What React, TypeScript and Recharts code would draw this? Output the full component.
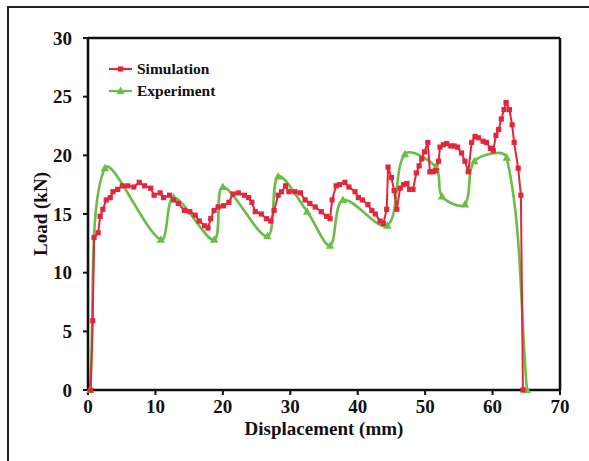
import {
  LineChart,
  Line,
  XAxis,
  YAxis,
  Legend,
  Label,
  ReferenceLine,
} from "recharts";

const RED = "#e3263b";
const GREEN = "#6cbd47";
const FONT = "'Liberation Serif', 'Times New Roman', serif";

// Simulation (red squares)
const simX = [
  0.4, 0.7, 0.9, 1.5, 1.8, 2.2, 2.7, 3.3, 3.7, 4.4, 5.1, 5.9, 6.8, 7.6, 8.4,
  9.3, 9.8, 10.7, 11.2, 12.1, 12.7, 13.4, 14.3, 15.1, 15.9, 16.5, 17.3, 17.8,
  18.2, 18.7, 19.3, 20.1, 20.9, 21.5, 22.3, 23.2, 23.8, 24.3, 24.8, 25.7, 26.5,
  27.1, 27.6, 28.2, 28.7, 29.3, 29.8, 30.7, 31.5, 32.2, 32.9, 33.7, 34.6, 35.4,
  35.9, 36.2, 36.8, 37.3, 38.1, 38.7, 39.6, 40.1, 40.7, 41.5, 42.1, 42.6, 43.3,
  43.8, 44.3, 44.5, 45.0, 45.4, 45.8, 46.3, 46.8, 47.3, 47.7, 48.2, 48.7, 49.1,
  49.5, 49.9, 50.4, 50.7, 51.2, 51.6, 52.0, 52.2, 52.7, 53.2, 53.8, 54.3, 54.8,
  55.4, 55.9, 56.4, 56.9, 57.4, 57.9, 58.6, 59.1, 59.7, 60.1, 60.5, 60.9, 61.3,
  61.7, 62.0, 62.5, 62.9, 63.2, 63.8, 64.2, 64.5,
];
const simY = [
  0, 5.9, 13.0, 13.4, 14.8, 15.4, 16.2, 16.4, 16.9, 17.1, 17.4, 17.4, 17.3,
  17.7, 17.4, 17.2, 16.6, 16.8, 16.4, 16.6, 16.2, 15.9, 15.3, 15.2, 14.9, 14.4,
  14.0, 13.8, 14.6, 15.3, 15.6, 15.7, 16.0, 16.7, 16.8, 16.6, 16.4, 16.0, 15.2,
  15.0, 14.6, 14.4, 15.3, 16.6, 16.9, 17.4, 16.9, 16.9, 16.8, 16.2, 15.9, 15.6,
  15.2, 14.8, 14.6, 16.2, 17.4, 17.5, 17.7, 17.3, 16.9, 16.4, 16.2, 15.8, 15.3,
  15.0, 14.4, 14.2, 15.4, 19.0, 18.1, 17.0, 15.4, 17.2, 17.5, 17.6, 17.1, 17.1,
  18.5, 19.1, 19.7, 20.3, 21.1, 18.6, 18.6, 18.7, 19.5, 20.7, 20.9, 21.0, 20.8,
  20.8, 20.7, 20.2, 19.5, 18.6, 21.1, 21.6, 21.5, 21.2, 21.1, 20.6, 20.4, 21.7,
  22.2, 23.1, 23.9, 24.5, 23.9, 22.6, 21.1, 18.9, 16.6, 0,
];

// Experiment (green triangles)
const expX = [
  0.3, 2.5, 10.8, 12.7, 18.7, 20.0, 26.6, 28.2, 32.5, 35.9, 37.8, 44.4, 47.0,
  51.6, 52.5, 55.9, 57.3, 62.1, 65.1,
];
const expY = [
  0, 18.9, 12.8, 16.4, 12.8, 17.3, 13.1, 18.2, 15.2, 12.3, 16.2, 14.0, 20.1,
  19.0, 16.5, 15.8, 19.5, 19.8, 0,
];

const xTicks = [0, 10, 20, 30, 40, 50, 60, 70];
const yTicks = [0, 5, 10, 15, 20, 25, 30];

const simData = simX.map((x, i) => ({ x, y: simY[i] }));
const expData = expX.map((x, i) => ({ x, y: expY[i] }));

// smoothed line through the points, tangents weighted by segment length
const smoothCurve = (context: any) => {
  let pts: number[][] = [];
  const dist = (a: number[], b: number[]) => Math.hypot(a[0] - b[0], a[1] - b[1]);
  return {
    areaStart() {},
    areaEnd() {},
    lineStart() {
      pts = [];
    },
    lineEnd() {
      const n = pts.length;
      if (!n) return;
      context.moveTo(pts[0][0], pts[0][1]);
      for (let i = 0; i < n - 1; i++) {
        const p0 = pts[i - 1] || pts[i];
        const p1 = pts[i];
        const p2 = pts[i + 1];
        const p3 = pts[i + 2] || pts[i + 1];
        const d01 = dist(p0, p1);
        const d12 = dist(p1, p2);
        const d23 = dist(p2, p3);
        const f1 = d12 / (d01 + d12 || 1) / 3;
        const f2 = d12 / (d12 + d23 || 1) / 3;
        context.bezierCurveTo(
          p1[0] + (p2[0] - p0[0]) * f1,
          p1[1] + (p2[1] - p0[1]) * f1,
          p2[0] - (p3[0] - p1[0]) * f2,
          p2[1] - (p3[1] - p1[1]) * f2,
          p2[0],
          p2[1]
        );
      }
    },
    point(x: number, y: number) {
      pts.push([+x, +y]);
    },
  };
};

const Square = (p: any) => (
  <rect key={`s${p.index}`} x={p.cx - 2.6} y={p.cy - 2.6} width={5.2} height={5.2} fill={RED} />
);

const Triangle = (p: any) => (
  <path
    key={`t${p.index}`}
    d={`M${p.cx},${p.cy - 4.5}L${p.cx + 4.2},${p.cy + 3}L${p.cx - 4.2},${p.cy + 3}Z`}
    fill={GREEN}
  />
);

const LegendBox = () => {
  const items = [
    { name: "Simulation", color: RED, shape: "square" },
    { name: "Experiment", color: GREEN, shape: "tri" },
  ];
  return (
    <div style={{ fontFamily: FONT, fontWeight: 700, fontSize: 15.5, color: "#111" }}>
      {items.map((it) => (
        <div key={it.name} style={{ display: "flex", alignItems: "center", height: 22 }}>
          <svg width={26} height={12} style={{ marginRight: 3 }}>
            <line x1={1} y1={6} x2={24} y2={6} stroke={it.color} strokeWidth={2.2} />
            {it.shape === "square" ? (
              <rect x={10} y={3.4} width={5.2} height={5.2} fill={it.color} />
            ) : (
              <path d="M12.5,1.5L16.7,9L8.3,9Z" fill={it.color} />
            )}
          </svg>
          <span>{it.name}</span>
        </div>
      ))}
    </div>
  );
};

const YTitle = (props: any) => {
  const vb = props.viewBox;
  const cx = vb.x + 12;
  const cy = vb.y + vb.height / 2;
  return (
    <text
      x={cx}
      y={cy}
      transform={`rotate(-90 ${cx} ${cy})`}
      textAnchor="middle"
      dominantBaseline="central"
      fontFamily={FONT}
      fontWeight={700}
      fontSize={19}
      fill="#111"
    >
      Load (kN)
    </text>
  );
};

const XTitle = (props: any) => {
  const vb = props.viewBox;
  return (
    <text
      x={vb.x + vb.width / 2}
      y={vb.y + 45}
      textAnchor="middle"
      fontFamily={FONT}
      fontWeight={700}
      fontSize={19}
      fill="#111"
    >
      Displacement (mm)
    </text>
  );
};

const tickStyle = { fontFamily: FONT, fontWeight: 700, fontSize: 19, fill: "#111" };
const axisStroke = { stroke: "#111", strokeWidth: 2.6 };

export default function App() {
  return (
    <div
      style={{
        position: "absolute",
        left: 0,
        top: 0,
        width: 589,
        height: 461,
        background: "#fff",
        overflow: "hidden",
      }}
    >
      <div
        style={{
          position: "absolute",
          left: 7,
          top: 6,
          width: 620,
          height: 500,
          borderLeft: "2px solid #222",
          borderTop: "2px solid #222",
        }}
      />
      <LineChart
        width={589}
        height={461}
        margin={{ top: 38, right: 29, bottom: 21, left: 28 }}
        style={{ position: "absolute", left: 0, top: 0 }}
      >
        <XAxis
          dataKey="x"
          type="number"
          domain={[0, 70]}
          ticks={xTicks}
          height={50}
          tick={tickStyle}
          tickSize={5}
          tickMargin={5}
          axisLine={axisStroke}
          tickLine={{ stroke: "#111", strokeWidth: 2 }}
        >
          <Label content={XTitle} />
        </XAxis>
        <YAxis
          dataKey="y"
          type="number"
          domain={[0, 30]}
          ticks={yTicks}
          width={60}
          tick={tickStyle}
          tickSize={5}
          tickMargin={11}
          axisLine={axisStroke}
          tickLine={{ stroke: "#111", strokeWidth: 2 }}
        >
          <Label content={YTitle} />
        </YAxis>
        <ReferenceLine y={30} stroke="#111" strokeWidth={2.6} />
        <ReferenceLine x={70} stroke="#111" strokeWidth={2.6} />
        <Legend
          layout="vertical"
          align="center"
          verticalAlign="middle"
          content={LegendBox}
          wrapperStyle={{ left: 108, top: 58, width: "auto" }}
        />
        <Line
          data={expData}
          dataKey="y"
          name="Experiment"
          type={smoothCurve as any}
          stroke={GREEN}
          strokeWidth={2.6}
          dot={Triangle}
          activeDot={false}
          isAnimationActive={false}
        />
        <Line
          data={simData}
          dataKey="y"
          name="Simulation"
          type="linear"
          stroke={RED}
          strokeWidth={2}
          dot={Square}
          activeDot={false}
          isAnimationActive={false}
        />
      </LineChart>
    </div>
  );
}
